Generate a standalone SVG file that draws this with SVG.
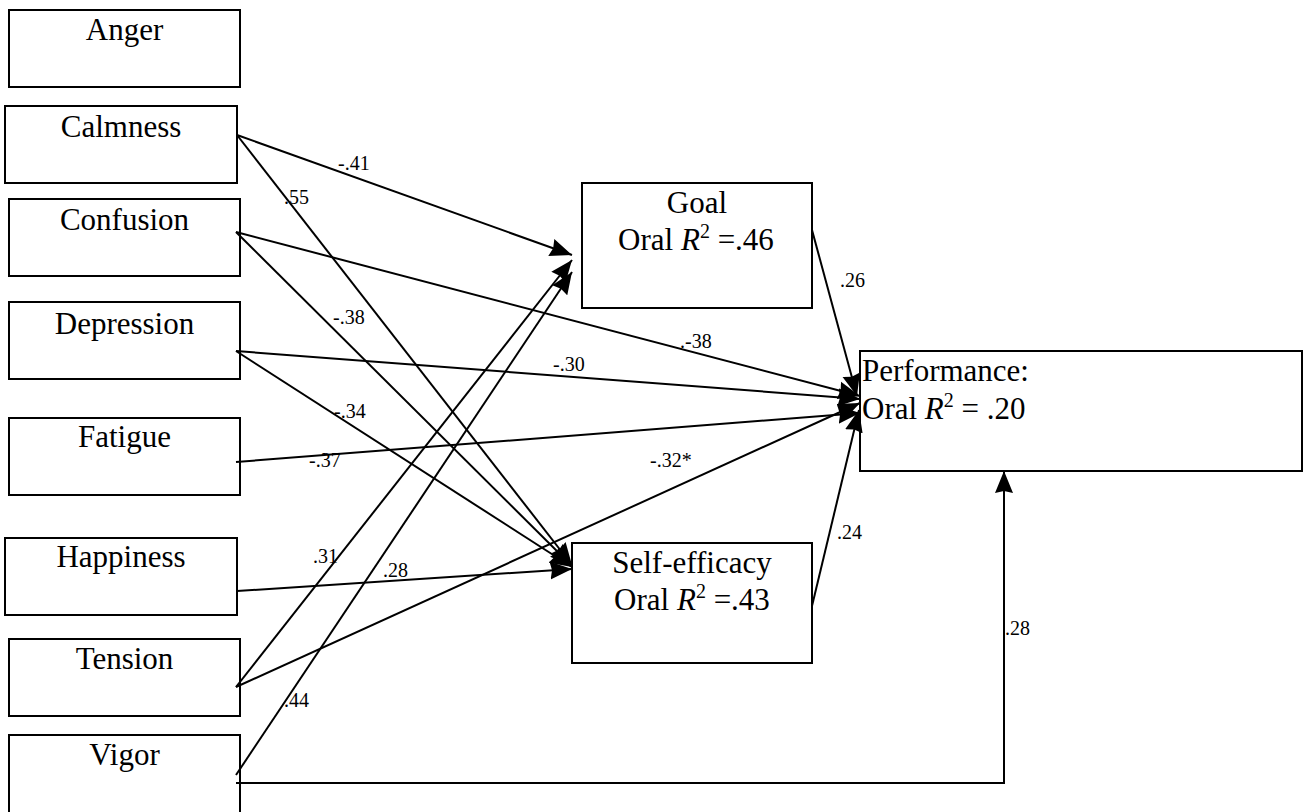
<svg xmlns="http://www.w3.org/2000/svg" width="1303" height="812" viewBox="0 0 1303 812">
<style>
.box{fill:#fff;stroke:#000;stroke-width:2}
.nt{font-family:"Liberation Serif","Times New Roman",serif;font-size:31px;fill:#000}
.el{font-family:"Liberation Serif","Times New Roman",serif;font-size:20px;fill:#000}
.c{fill:none;stroke:#000;stroke-width:2;marker-end:url(#ah)}
.sup{font-size:20px}
</style>
<defs>
<marker id="ah" markerUnits="userSpaceOnUse" markerWidth="24" markerHeight="20" refX="22" refY="10" orient="auto">
<path d="M0,1 L22,10 L0,19 L2,10 z" fill="#000"/>
</marker>
</defs>
<rect width="1303" height="812" fill="#fff"/>
<g id="anger"><rect class="box" x="9" y="10" width="231" height="77"/><text class="nt" x="124.5" y="40" text-anchor="middle">Anger</text></g>
<g id="calmness"><rect class="box" x="5" y="106" width="232" height="77"/><text class="nt" x="121" y="137" text-anchor="middle">Calmness</text></g>
<g id="confusion"><rect class="box" x="9" y="199" width="231" height="77"/><text class="nt" x="124.5" y="230" text-anchor="middle">Confusion</text></g>
<g id="depression"><rect class="box" x="9" y="302" width="231" height="77"/><text class="nt" x="124.5" y="334" text-anchor="middle">Depression</text></g>
<g id="fatigue"><rect class="box" x="9" y="418" width="231" height="77"/><text class="nt" x="124.5" y="447" text-anchor="middle">Fatigue</text></g>
<g id="happiness"><rect class="box" x="5" y="538" width="232" height="77"/><text class="nt" x="121" y="567" text-anchor="middle">Happiness</text></g>
<g id="tension"><rect class="box" x="9" y="639" width="231" height="77"/><text class="nt" x="124.5" y="669" text-anchor="middle">Tension</text></g>
<g id="vigor"><rect class="box" x="9" y="735" width="231" height="80"/><text class="nt" x="124.5" y="765" text-anchor="middle">Vigor</text></g>
<g id="goal"><rect class="box" x="582" y="183" width="230" height="125"/>
<text class="nt" x="697" y="213" text-anchor="middle">Goal</text>
<text class="nt" x="696" y="250" text-anchor="middle">Oral <tspan font-style="italic">R</tspan><tspan class="sup" dy="-12">2</tspan><tspan dy="12"> =.46</tspan></text></g>
<g id="selfefficacy"><rect class="box" x="572" y="543" width="240" height="120"/>
<text class="nt" x="692" y="573" text-anchor="middle">Self-efficacy</text>
<text class="nt" x="692" y="610" text-anchor="middle">Oral <tspan font-style="italic">R</tspan><tspan class="sup" dy="-12">2</tspan><tspan dy="12"> =.43</tspan></text></g>
<g id="performance"><rect class="box" x="860" y="351" width="442" height="120"/>
<text class="nt" x="862" y="381">Performance:</text>
<text class="nt" x="862" y="419">Oral <tspan font-style="italic">R</tspan><tspan class="sup" dy="-12">2</tspan><tspan dy="12"> = .20</tspan></text></g>
<g id="connectors">
<path class="c" d="M237,135 L572,255"/>
<path class="c" d="M237,135 L572,565"/>
<path class="c" d="M236,232 L572,566"/>
<path class="c" d="M236,232 L860,396"/>
<path class="c" d="M236,351 L860,399"/>
<path class="c" d="M236,351 L572,567"/>
<path class="c" d="M236,462 L860,413"/>
<path class="c" d="M237,591 L572,569"/>
<path class="c" d="M236,687 L572,260"/>
<path class="c" d="M236,687 L860,403"/>
<path class="c" d="M236,775 L572,272"/>
<path class="c" d="M812,230 L857,396"/>
<path class="c" d="M812,606 L859,410"/>
<path class="c" d="M236,783 H1004 V471"/>
<text class="el" x="338" y="170">-.41</text>
<text class="el" x="284" y="204">.55</text>
<text class="el" x="333" y="324">-.38</text>
<text class="el" x="680" y="348">.-38</text>
<text class="el" x="553" y="371">-.30</text>
<text class="el" x="334" y="418">-.34</text>
<text class="el" x="309" y="467">-.37</text>
<text class="el" x="650" y="467">-.32*</text>
<text class="el" x="313" y="563">.31</text>
<text class="el" x="383" y="577">.28</text>
<text class="el" x="284" y="707">.44</text>
<text class="el" x="840" y="287">.26</text>
<text class="el" x="837" y="539">.24</text>
<text class="el" x="1005" y="635">.28</text>
</g>
</svg>
